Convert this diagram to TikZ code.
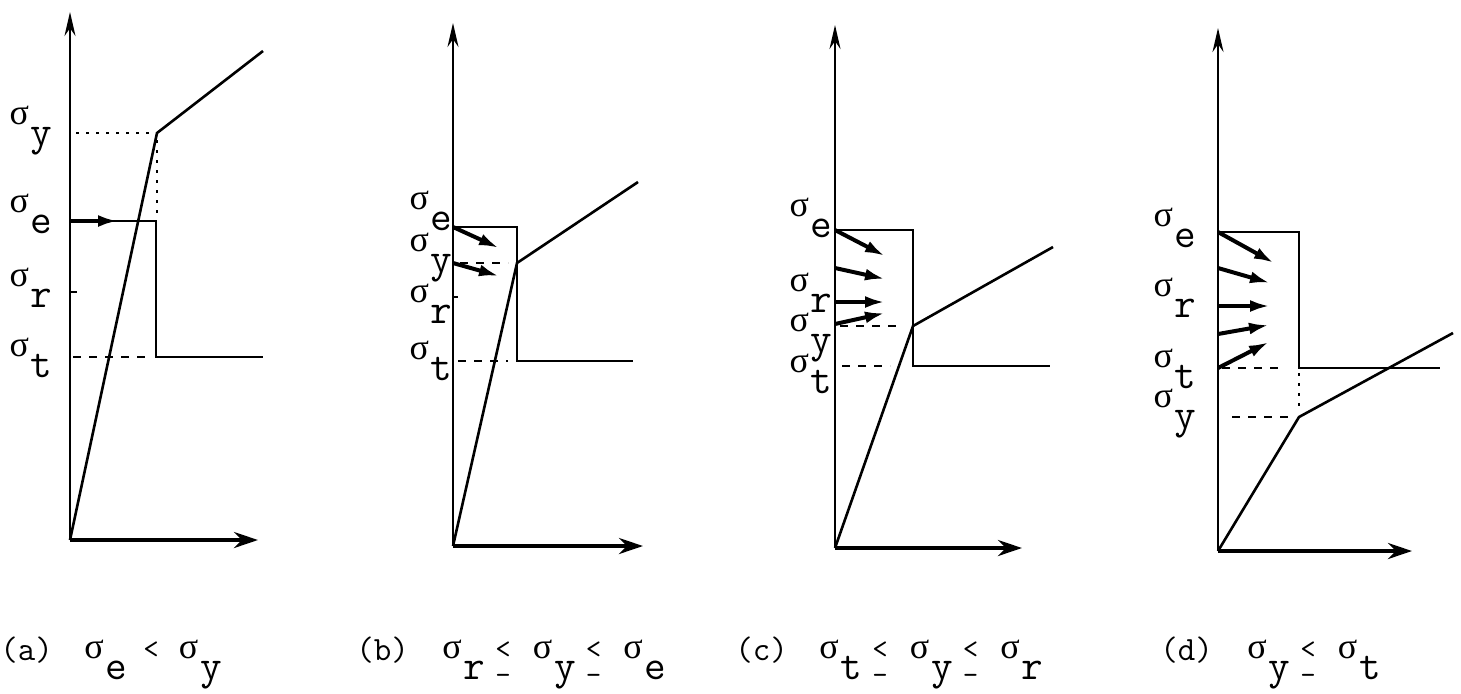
\documentclass[tikz,border=0pt]{standalone}
\usepackage{fontspec}
\newfontfamily\greekfont{Liberation Serif}
\usetikzlibrary{arrows.meta}

% typewriter-style stress symbols
\newcommand{\sg}{\raisebox{10.5pt}{\fontsize{18}{18}\selectfont\greekfont σ}}
\newcommand{\sig}[1]{\sg\hspace{1pt}{\fontsize{21}{22}\selectfont\ttfamily #1}}
\newcommand{\tlt}{\raisebox{10.5pt}{\fontsize{15}{15}\selectfont\ttfamily <}}
\newcommand{\tleq}{{\fontsize{15}{15}\selectfont\ttfamily\ooalign{\raisebox{10.5pt}{<}\cr\raisebox{-2.5pt}{-}\cr}}}

\begin{document}
\begin{tikzpicture}[x=0.5pt, y=-0.5pt,
    yax/.style={line width=1.2pt, -{Stealth[length=12pt,width=5.5pt]}},
    xax/.style={line width=2pt, -{Stealth[length=12pt,width=8pt]}},
    curve/.style={line width=1.3pt},
    stress/.style={line width=2pt, -{Latex[length=10pt,width=6pt]}},
    dashln/.style={line width=1pt, dash pattern=on 4pt off 4pt},
    dotln/.style={line width=1pt, dash pattern=on 1.5pt off 3.5pt},
    lab/.style={anchor=base east, inner sep=0pt},
    capt/.style={anchor=base west, inner sep=0pt, font=\fontsize{17}{17}\selectfont\ttfamily},
    fml/.style={anchor=base west, inner sep=0pt}
  ]
  \useasboundingbox (0,0) rectangle (1461,693);

  % (a) sigma_e < sigma_y
  \coordinate (oa) at (70,540);
  \coordinate (ka) at (157,133);
  \draw[yax] (oa) -- (70,12);
  \draw[xax] (oa) -- (258,540);
  \draw[curve] (oa) -- (ka) -- (263,51);
  \draw[curve] (70,221) -- (156,221) -- (156,357) -- (263,357);
  \draw[curve] (70,292) -- (77,292);
  \draw[dotln] (76,133) -- (150,133);
  \draw[dotln] (157,140) -- (157,216);
  \draw[dashln] (73,357) -- (150,357);
  \draw[stress] (70,221) -- (118,221);
  \node[lab] (sya) at (53,145) {\sig{y}};
  \node[lab] (sea) at (53,233) {\sig{e}};
  \node[lab] (sra) at (53,307) {\sig{r}};
  \node[lab] (sta) at (53,377) {\sig{t}};

  % (b) sigma_r <= sigma_y <= sigma_e
  \coordinate (ob) at (453,546);
  \coordinate (kb) at (517,263);
  \draw[yax] (ob) -- (453,23);
  \draw[xax] (ob) -- (643,546);
  \draw[curve] (ob) -- (kb) -- (638,182);
  \draw[curve] (453,227) -- (517,227) -- (517,361) -- (633,361);
  \draw[curve] (453,297) -- (458,297);
  \draw[dashln] (460,263) -- (508,263);
  \draw[dashln] (458,361) -- (508,361);
  \draw[stress] (453,227) -- (499,248);
  \draw[stress] (453,263) -- (499,276);
  \node[lab] (seb) at (453,230) {\sig{e}};
  \node[lab] (syb) at (453,272) {\sig{y}};
  \node[lab] (srb) at (453,323) {\sig{r}};
  \node[lab] (stb) at (453,380) {\sig{t}};

  % (c) sigma_t <= sigma_y <= sigma_r
  \coordinate (oc) at (835,548);
  \coordinate (kc) at (913,326);
  \draw[yax] (oc) -- (835,25);
  \draw[xax] (oc) -- (1022,548);
  \draw[curve] (oc) -- (kc) -- (1053,247);
  \draw[curve] (835,230) -- (913,230) -- (913,366) -- (1050,366);
  \draw[dashln] (840,326) -- (900,326);
  \draw[dashln] (842,366) -- (890,366);
  \draw[stress] (835,230) -- (885,256);
  \draw[stress] (835,268) -- (885,279);
  \draw[stress] (835,302) -- (885,302);
  \draw[stress] (835,324) -- (885,313);
  \node[lab] (sec) at (833,237) {\sig{e}};
  \node[lab] (src) at (833,312) {\sig{r}};
  \node[lab] (syc) at (833,352) {\sig{y}};
  \node[lab] (stc) at (833,393) {\sig{t}};

  % (d) sigma_y <= sigma_t
  \coordinate (od) at (1218,551);
  \coordinate (kd) at (1299,417);
  \draw[yax] (od) -- (1218,28);
  \draw[xax] (od) -- (1412,551);
  \draw[curve] (od) -- (kd) -- (1453,333);
  \draw[curve] (1218,232) -- (1299,232) -- (1299,368) -- (1440,368);
  \draw[dotln] (1299,373) -- (1299,412);
  \draw[dashln] (1232,417) -- (1290,417);
  \draw[dashln] (1222,368) -- (1284,368);
  \draw[stress] (1218,232) -- (1274,263);
  \draw[stress] (1218,268) -- (1270,283);
  \draw[stress] (1218,306) -- (1270,306);
  \draw[stress] (1218,334) -- (1269,325);
  \draw[stress] (1218,368) -- (1269,342);
  \node[lab] (sed) at (1197,247) {\sig{e}};
  \node[lab] (srd) at (1197,317) {\sig{r}};
  \node[lab] (std) at (1197,388) {\sig{t}};
  \node[lab] (syd) at (1197,428) {\sig{y}};

  % captions
  \node[capt] (capa) at (0,660) {(a)};
  \node[fml] (fmla) at (84,679) {\sig{e}\hspace{8pt}\tlt\hspace{10pt}\sig{y}};
  \node[capt] (capb) at (356,660) {(b)};
  \node[fml] (fmlb) at (442,679) {\sig{r}\hspace{5pt}\tleq\hspace{11pt}\sig{y}\hspace{5pt}\tleq\hspace{11pt}\sig{e}};
  \node[capt] (capc) at (735,660) {(c)};
  \node[fml] (fmlc) at (819,679) {\sig{t}\hspace{5pt}\tleq\hspace{11pt}\sig{y}\hspace{5pt}\tleq\hspace{11pt}\sig{r}};
  \node[capt] (capd) at (1160,660) {(d)};
  \node[fml] (fmld) at (1247,679) {\sig{y}\hspace{5pt}\tleq\hspace{11pt}\sig{t}};
\end{tikzpicture}
\end{document}
